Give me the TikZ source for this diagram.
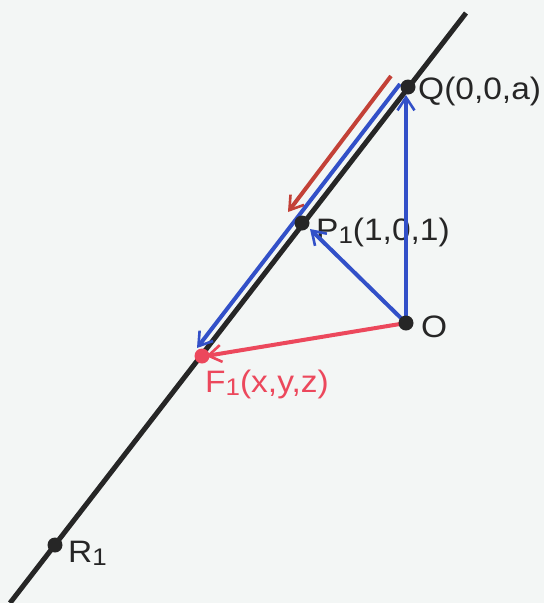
\documentclass[tikz,border=0pt]{standalone}
\usepackage{fontspec}
\setmainfont{Liberation Sans}
\usetikzlibrary{arrows.meta,calc}
\definecolor{bg}{RGB}{243,246,245}
\definecolor{vblue}{RGB}{50,80,200}
\definecolor{vred}{RGB}{236,72,92}
\definecolor{vbrown}{RGB}{195,65,55}
\definecolor{ink}{RGB}{38,38,38}
\newcommand{\sub}[1]{\raisebox{-0.1em}{\fontsize{24}{24}\selectfont #1}}
\begin{document}
\begin{tikzpicture}[x=1pt,y=1pt,
  pt/.style={circle,fill=ink,inner sep=0pt,minimum size=15pt},
  lbl/.style={anchor=west,inner sep=0pt,font=\fontsize{31}{32}\selectfont,text=ink,xscale=1.08},
  vec/.style={line width=4pt,-{Straight Barb[length=13pt,width=17pt,line width=2.6pt]}},
  axisline/.style={line width=5pt,draw=ink}]
\fill[bg] (0,0) rectangle (544,-603);
\useasboundingbox (0,0) rectangle (544,-603);
% points on the line
\coordinate (LT) at (466,-13);
\coordinate (LB) at (10,-603);
\coordinate (Q) at (408,-87);
\coordinate (P) at (302,-223);
\coordinate (F) at (202,-356);
\coordinate (R) at (55,-545);
\coordinate (O) at (406,-323);
% offset coordinates for parallel vectors
\coordinate (Qb) at (400,-84);
\coordinate (Fb) at (197,-348);
\coordinate (Rs) at (391,-76);
\coordinate (Re) at (288,-212);
\coordinate (Qt) at (406,-95);
\coordinate (Pt) at (310,-229);
\coordinate (Ft) at (206,-356);
% line
\draw[axisline] (LT) -- (LB);
% labels
\node[lbl] (lq) at (418,-91) {Q(0,0,a)};
\node[lbl] (lp) at (316,-232) {P\sub{1}(1,0,1)};
\node[lbl] (lo) at (421,-327) {O};
\node[lbl,text=vred] (lf) at (205,-384) {F\sub{1}(x,y,z)};
\node[lbl] (lr) at (68,-553) {R\sub{1}};
% vectors
\draw[vec,draw=vbrown] (Rs) -- (Re);
\draw[vec,draw=vblue] (Qb) -- (Fb);
\draw[vec,draw=vblue] (O) -- (Qt);
\draw[vec,draw=vblue] (O) -- (Pt);
\draw[vec,draw=vred] (O) -- (Ft);
% dots
\node[pt] (q) at (Q) {};
\node[pt] (p) at (P) {};
\node[pt] (o) at (O) {};
\node[pt,fill=vred] (f) at (F) {};
\node[pt] (r) at (R) {};
\end{tikzpicture}
\end{document}
